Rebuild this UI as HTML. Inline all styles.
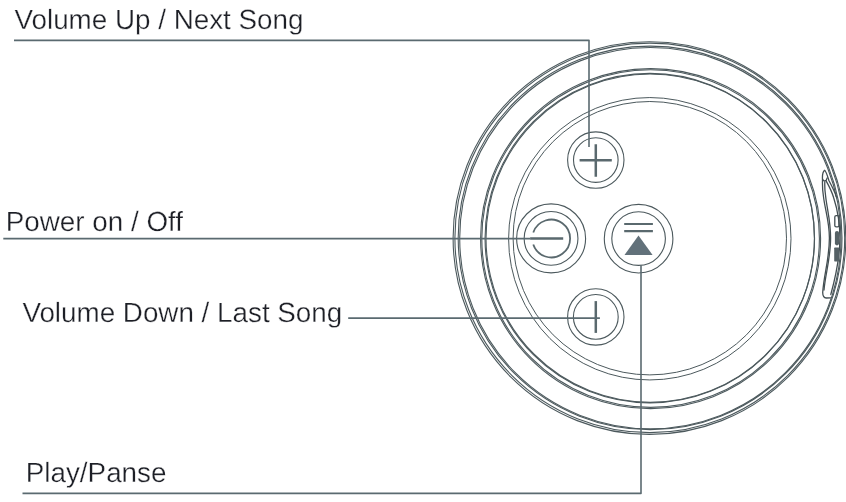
<!DOCTYPE html>
<html>
<head>
<meta charset="utf-8">
<title>Speaker buttons</title>
<style>
html,body{margin:0;padding:0;background:#fff;}
body{width:846px;height:502px;overflow:hidden;}
svg{display:block;}
text{text-rendering:geometricPrecision;font-family:"Liberation Sans",sans-serif;font-size:27.8px;fill:#1d1f26;stroke:#fff;stroke-width:0.3px;}
.l{fill:none;stroke:#56656a;}
</style>
</head>
<body>
<svg width="846" height="502" viewBox="0 0 846 502">
<rect width="846" height="502" fill="#fff"/>
<!-- body rings -->
<g class="l" stroke-width="1.1" style="stroke:#4c595d">
<circle cx="649.45" cy="238.05" r="196.35"/>
<ellipse cx="649.8" cy="237.85" rx="194.9" ry="194.75"/>
<ellipse cx="650.1" cy="237.85" rx="191.9" ry="191.75"/>
<circle cx="650.35" cy="238.15" r="190.65"/>
<circle cx="650.6" cy="238.6" r="170"/>
<circle cx="650.6" cy="238.6" r="168.8"/>
<circle cx="649.8" cy="238.15" r="164.75"/>
<circle cx="650.2" cy="238.15" r="164.2"/>
</g>
<g class="l" stroke-width="1" style="stroke:#4c595d">
<circle cx="649.8" cy="238.75" r="141.2"/>
<circle cx="649.8" cy="238.2" r="136.7"/>
</g>
<!-- side recess with port -->
<g class="l" stroke-width="1.3" style="stroke:#434e52" stroke-linecap="round" stroke-linejoin="round">
<path d="M824.7 170.4C823 171.4 822.2 175 822.5 180C822.3 186 822.6 191 823.4 196C825 210 829.4 221 829.4 238C829.4 259 824 274 822.7 292.5Q822.8 297.8 826.2 298L830.6 297.8"/>
<path d="M824.8 182C824.6 187 825 192 825.6 196C827 209 830.6 221 830.6 238C830.6 258 825.4 274 824 290"/>
<path d="M824.7 170.4C826.4 172 827.8 177 829 180.8C831.5 185.5 834.5 191 836.2 196.5"/>
<path d="M822.7 179.2C823.4 181.8 826.2 181.8 827.2 177.8"/>
<path d="M826 180.6C829 186 832 192 833.6 197.5C837 208 839.9 224 839.9 238C839.9 254 836.4 274 830.8 294.5"/>
<rect x="834.8" y="215.6" width="4.2" height="11.2" rx="1.4"/>
</g>
<g fill="#556165">
<rect x="834.9" y="231" width="4.2" height="14.4" rx="2.1"/>
<rect x="834.2" y="247.6" width="4.9" height="13.8" rx="0.6"/>
</g>
<!-- buttons -->
<g class="l" stroke-width="1.1" style="stroke:#4c595d">
<circle cx="595.8" cy="160.1" r="28.2"/>
<circle cx="595.8" cy="160.1" r="22.3"/>
<circle cx="551.1" cy="238.4" r="34.5"/>
<circle cx="551.05" cy="238.4" r="26.9"/>
<circle cx="638.6" cy="238.7" r="34.3"/>
<circle cx="638.6" cy="238.6" r="26.8"/>
<circle cx="595.8" cy="316.95" r="28.2"/>
<circle cx="595.8" cy="316.9" r="22.4"/>
</g>
<!-- icons -->
<g class="l" stroke-width="2.5" style="stroke:#5a696e">
<path d="M579.6 160.35H611.8M595.8 144.2V176.8"/>
<path d="M533.28 232.5A18.9 18.9 0 1 1 533.28 244.5" stroke-width="1.8"/>
<path d="M530.1 238.5H563.2" stroke-width="2.3"/>
<path d="M624.2 224H652.9M624.2 231.2H652.9" stroke-width="2.2"/>
<path d="M595.8 301.1V332.9"/>
</g>
<path d="M638.5 235.6L652.6 254.9H624.5Z" fill="#62717a"/>
<!-- leader lines -->
<g class="l" stroke-width="1.6" stroke-linejoin="round" style="stroke:#5a6a70">
<path d="M14 40.35H589V147"/>
<path d="M3.3 238.65H530"/>
<path d="M348.2 318.1H599.9"/>
<path d="M22.5 493.4H641V265.3"/>
</g>
<g style="filter:opacity(0.999)">
<text x="14.5" y="29">Volume Up / Next Song</text>
<text x="5.8" y="231">Power on / Off</text>
<text x="22.4" y="322">Volume Down / Last Song</text>
<text x="25.8" y="482">Play/Panse</text>
</g>
</svg>
</body>
</html>
